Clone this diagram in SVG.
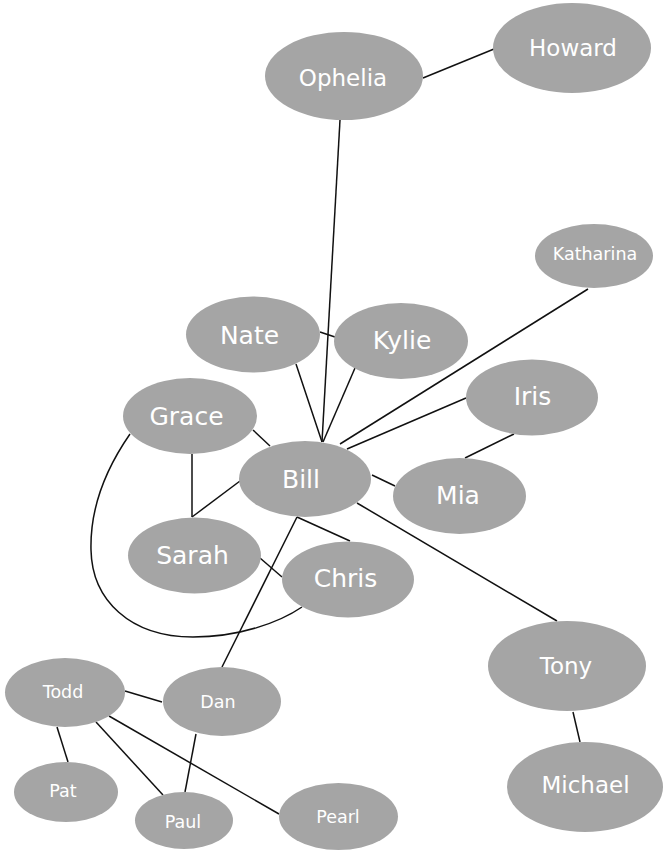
<svg xmlns="http://www.w3.org/2000/svg" width="663" height="851" viewBox="0 0 663 851">
<style>
.n ellipse{fill:#a5a5a5;stroke:none}
.n text{fill:#ffffff;font-family:"DejaVu Sans","Liberation Sans",sans-serif;text-anchor:middle}
.big text{font-size:23px}
.mid text{font-size:25px}
.sm text{font-size:17.5px}
#edges path{fill:none;stroke:#111;stroke-width:1.5}
</style>
<rect width="663" height="851" fill="#ffffff"/>
<g id="edges">
<path d="M423,78 L494,49"/>
<path d="M340,120 L322,442"/>
<path d="M320,332 L335,337"/>
<path d="M296,364 L322,442"/>
<path d="M355,368 L323,442"/>
<path d="M588,289 L340,444"/>
<path d="M466,398 L347,449"/>
<path d="M514,434 L465,458"/>
<path d="M253,430 L270,446"/>
<path d="M192,454 L192,517"/>
<path d="M240,481 L192,517"/>
<path d="M372,475 L395,486"/>
<path d="M297,517 L350,541"/>
<path d="M260,558 L282,577"/>
<path d="M297,517 L222,667"/>
<path d="M357,503 L557,621"/>
<path d="M573,712 L580,742"/>
<path d="M125,691 L162,702"/>
<path d="M57,727 L68,762"/>
<path d="M96,722 L163,795"/>
<path d="M109,716 L279,814"/>
<path d="M196,734 L185,792"/>
<path d="M130,434 C105,470 90,510 91,550 C92,600 130,637 193,637 C240,637 280,622 302,607"/>
</g>
<g id="ophelia" class="n big"><ellipse cx="344" cy="76" rx="79" ry="44"/><text x="343" y="86">Ophelia</text></g>
<g id="howard" class="n big"><ellipse cx="572" cy="48" rx="79" ry="45"/><text x="573" y="56">Howard</text></g>
<g id="katharina" class="n"><ellipse cx="594" cy="256" rx="59" ry="32"/><text x="595" y="260" style="font-size:17.5px">Katharina</text></g>
<g id="nate" class="n mid"><ellipse cx="253" cy="334.5" rx="67" ry="38"/><text x="249.5" y="344">Nate</text></g>
<g id="kylie" class="n mid"><ellipse cx="401" cy="341" rx="67" ry="38"/><text x="402" y="349">Kylie</text></g>
<g id="grace" class="n mid"><ellipse cx="190" cy="416" rx="67" ry="38"/><text x="186.5" y="425">Grace</text></g>
<g id="iris" class="n mid"><ellipse cx="532" cy="397.5" rx="66" ry="38"/><text x="532.5" y="404.5">Iris</text></g>
<g id="bill" class="n mid"><ellipse cx="305" cy="479" rx="66" ry="38"/><text x="301" y="488">Bill</text></g>
<g id="mia" class="n mid"><ellipse cx="459.5" cy="496" rx="66.5" ry="38"/><text x="458" y="504">Mia</text></g>
<g id="sarah" class="n mid"><ellipse cx="194.5" cy="555.5" rx="66.5" ry="38"/><text x="192.5" y="564">Sarah</text></g>
<g id="chris" class="n mid"><ellipse cx="348" cy="579.5" rx="66" ry="38"/><text x="345.5" y="587">Chris</text></g>
<g id="tony" class="n big"><ellipse cx="567" cy="666" rx="79" ry="45"/><text x="566" y="674">Tony</text></g>
<g id="michael" class="n big"><ellipse cx="585" cy="787" rx="78" ry="45"/><text x="585.5" y="793">Michael</text></g>
<g id="todd" class="n sm"><ellipse cx="65" cy="692.5" rx="60" ry="34.5"/><text x="63" y="698">Todd</text></g>
<g id="dan" class="n sm"><ellipse cx="222" cy="701.5" rx="59" ry="34.5"/><text x="218" y="708">Dan</text></g>
<g id="pat" class="n sm"><ellipse cx="66" cy="792" rx="52" ry="30"/><text x="63" y="797">Pat</text></g>
<g id="paul" class="n sm"><ellipse cx="184" cy="820.5" rx="49" ry="28.5"/><text x="183" y="828">Paul</text></g>
<g id="pearl" class="n sm"><ellipse cx="338.5" cy="816.5" rx="59.5" ry="33.5"/><text x="338" y="823">Pearl</text></g>
</svg>
